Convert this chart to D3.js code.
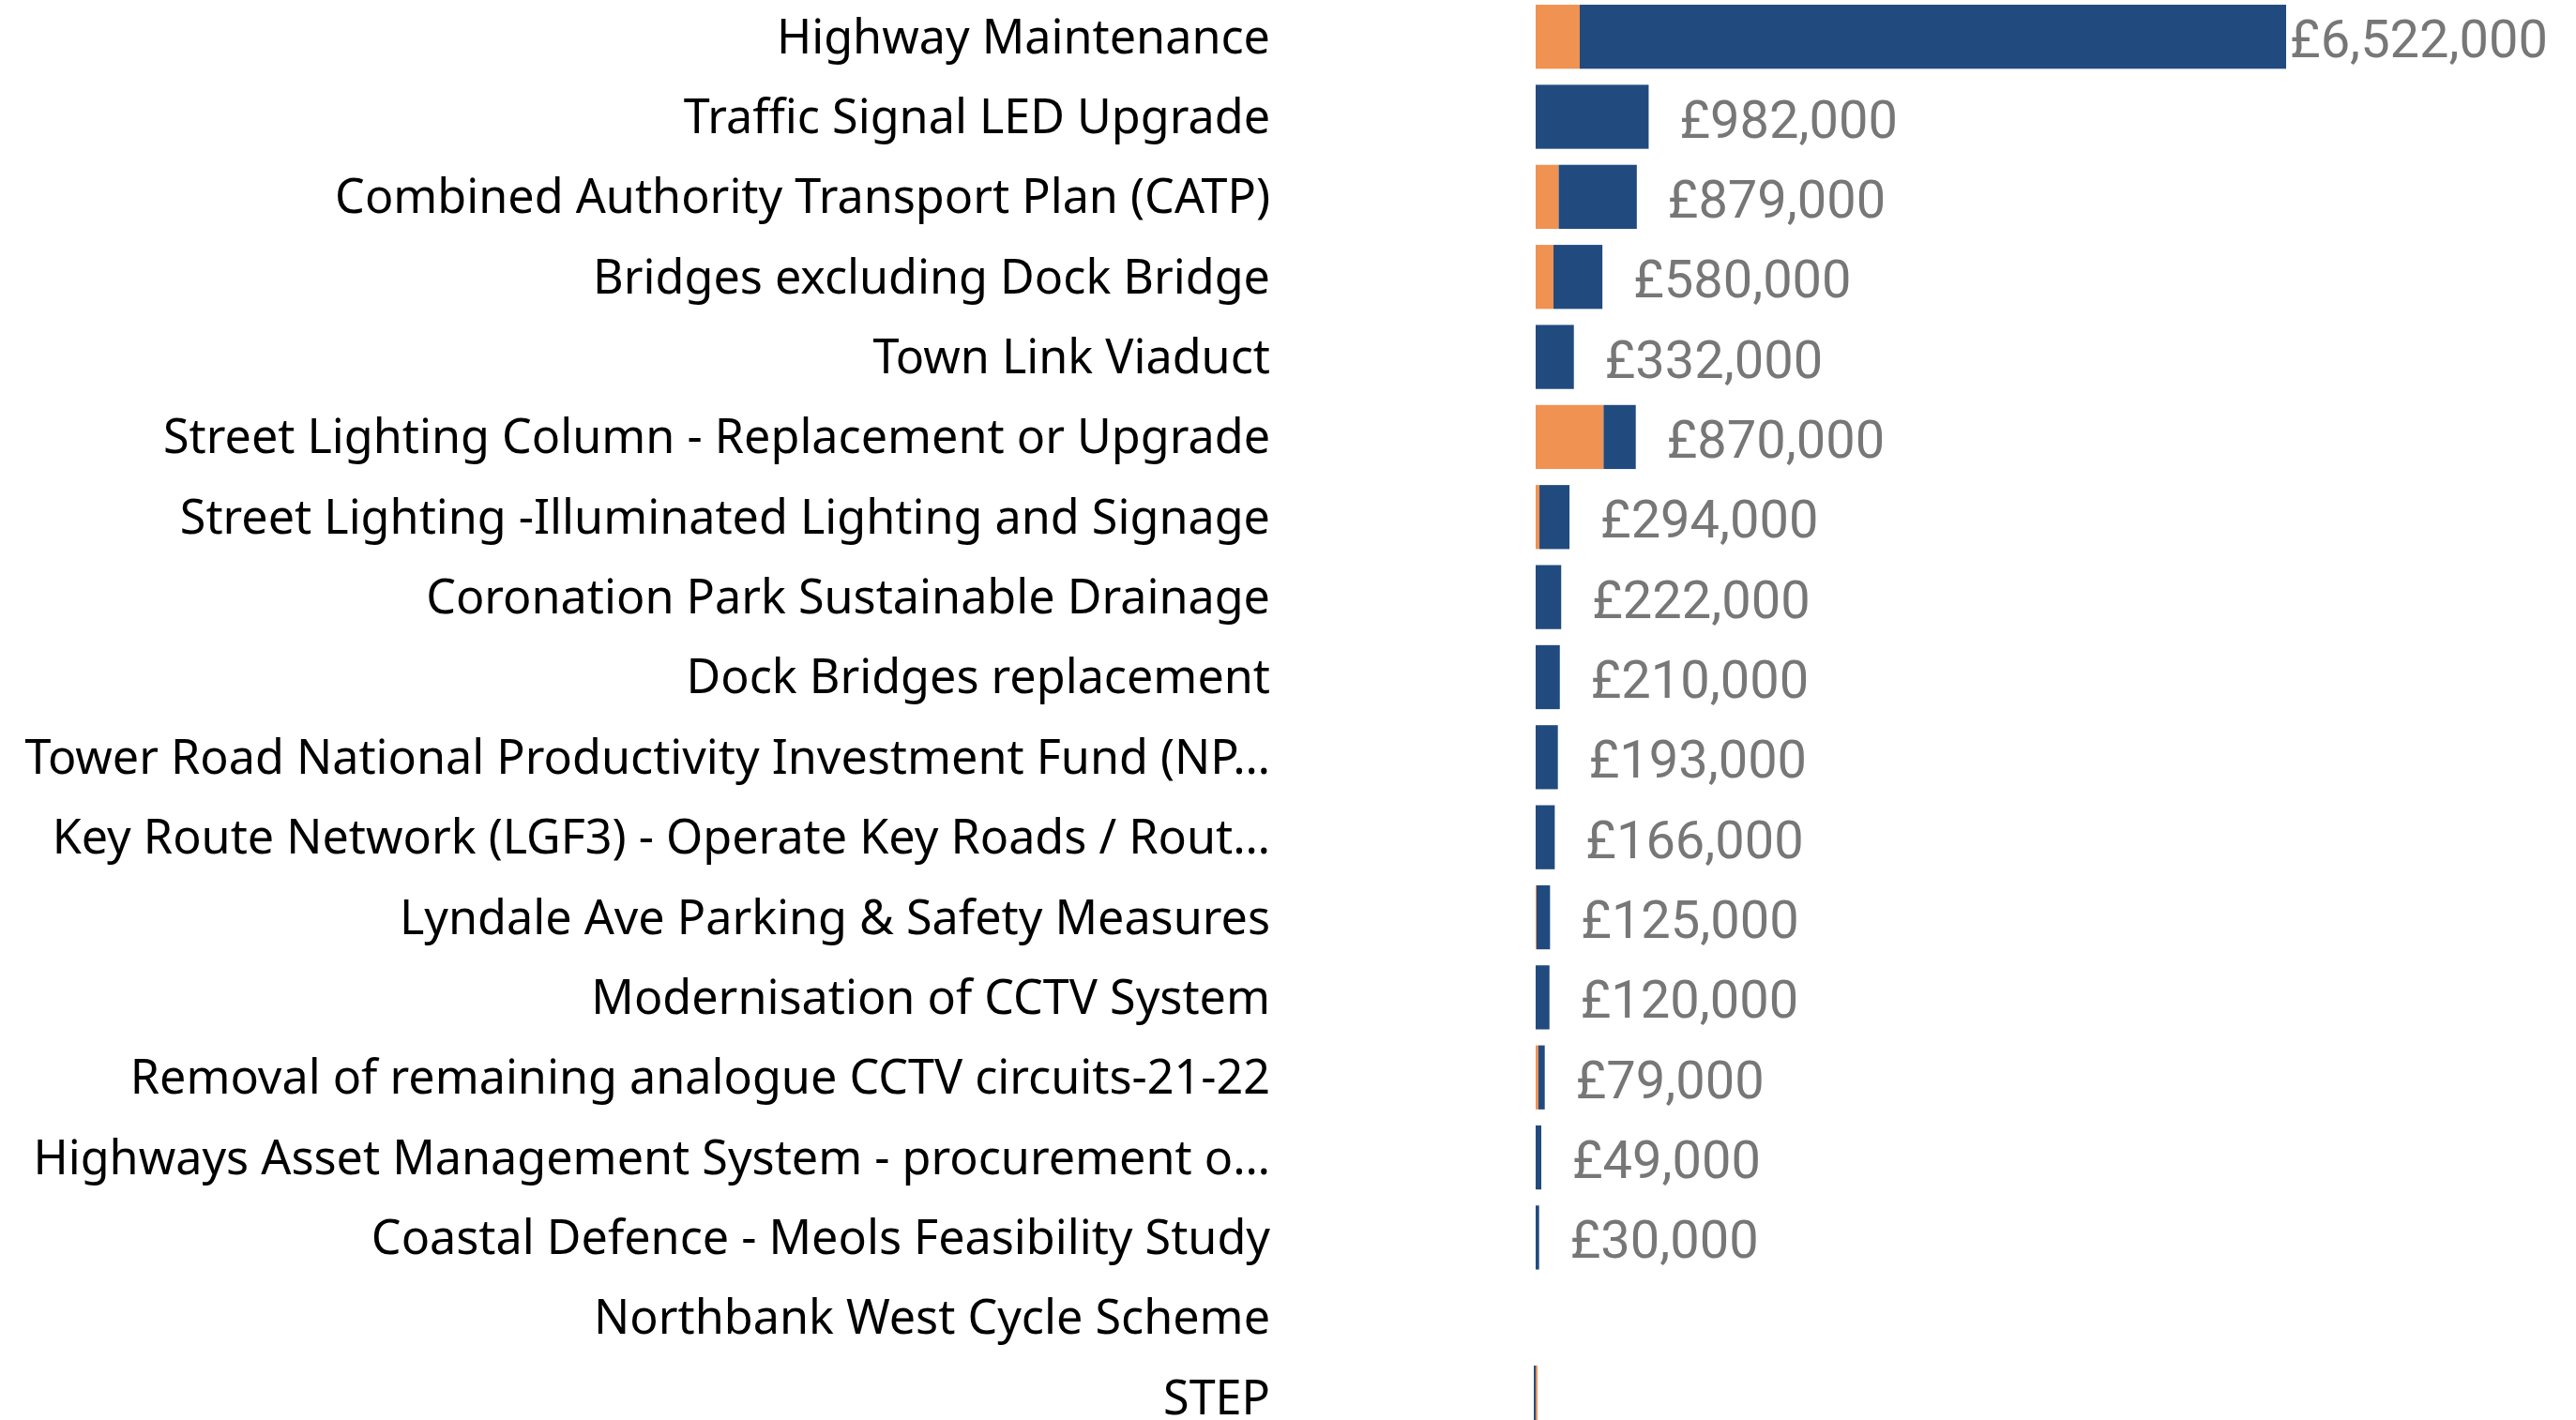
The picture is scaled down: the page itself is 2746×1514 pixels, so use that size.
<!DOCTYPE html>
<html>
<head>
<meta charset="utf-8">
<script src="https://cdn.jsdelivr.net/npm/d3@7"></script>
<style>
    body { margin: 0; background: #fff; }
    .cat-label { font-family: "Segoe UI", "Noto Sans", sans-serif; font-size: 50.3px; fill: #000; }
    .val-label { font-family: Roboto, "DejaVu Sans", sans-serif; font-size: 56px; fill: #777; }
</style>
</head>
<body>
<svg id="chart" width="2746" height="1514"></svg>
<script>
// project names (as shown, truncated ones included)
var categories = [
    "Highway Maintenance",
    "Traffic Signal LED Upgrade",
    "Combined Authority Transport Plan (CATP)",
    "Bridges excluding Dock Bridge",
    "Town Link Viaduct",
    "Street Lighting Column - Replacement or Upgrade",
    "Street Lighting -Illuminated Lighting and Signage",
    "Coronation Park Sustainable Drainage",
    "Dock Bridges replacement",
    "Tower Road National Productivity Investment Fund (NP…",
    "Key Route Network (LGF3) - Operate Key Roads / Rout…",
    "Lyndale Ave Parking & Safety Measures",
    "Modernisation of CCTV System",
    "Removal of remaining analogue CCTV circuits-21-22",
    "Highways Asset Management System - procurement o…",
    "Coastal Defence - Meols Feasibility Study",
    "Northbank West Cycle Scheme",
    "STEP"
];

// orange part of each bar
var orangeValues = [383000, 0, 200000, 155000, 0, 590000, 33000, 0, 0, 0, 0, 8000, 0, 24000, 0, 0, 0, 16000];

// blue part of each bar
var blueValues = [6139000, 982000, 679000, 425000, 332000, 280000, 261000, 222000, 210000, 193000, 166000, 117000, 120000, 55000, 49000, 30000, 0, -16000];

var colors = {orange: "#EF9252", blue: "#214B7E"};

var data = categories.map(function (c, i) {
    return {name: c, orange: orangeValues[i], blue: blueValues[i]};
});

var svg = d3.select("#chart"),
    labelRight = 1354,
    barLeft = 1637,
    barWidth = 800,
    labelLimit = 2716;

var y = d3.scaleBand()
    .domain(categories)
    .range([-3.5, -3.5 + 18 * 85.35])
    .paddingInner(0.2)
    .paddingOuter(0.1);

var maxTotal = d3.max(data, function (d) { return d.orange + d.blue; });

var x = d3.scaleLinear()
    .domain([0, maxTotal])
    .range([barLeft, barLeft + barWidth]);

var stack = d3.stack()
    .keys(["orange", "blue"])
    .offset(d3.stackOffsetDiverging);

var series = stack(data);

// stacked bars
svg.selectAll("g.series")
    .data(series)
    .enter()
    .append("g")
    .attr("class", "series")
    .attr("fill", function (s) { return colors[s.key]; })
    .selectAll("rect")
    .data(function (s) { return s; })
    .enter()
    .append("rect")
    .attr("x", function (d) { return x(Math.min(d[0], d[1])); })
    .attr("y", function (d) { return y(d.data.name); })
    .attr("width", function (d) { return Math.abs(x(d[1]) - x(d[0])); })
    .attr("height", y.bandwidth());

// category labels
svg.append("g")
    .selectAll("text")
    .data(categories)
    .enter()
    .append("text")
    .attr("class", "cat-label")
    .attr("x", labelRight)
    .attr("y", function (d) { return y(d) + y.bandwidth() / 2 - 2; })
    .attr("text-anchor", "end")
    .attr("dominant-baseline", "central")
    .text(function (d) { return d; });

// total labels
var fmt = d3.format(",");
svg.append("g")
    .selectAll("text")
    .data(data.filter(function (d) { return d.orange + d.blue !== 0; }))
    .enter()
    .append("text")
    .attr("class", "val-label")
    .attr("y", function (d) { return y(d.name) + y.bandwidth() / 2 + 3; })
    .attr("dominant-baseline", "central")
    .text(function (d) { return "£" + fmt(d.orange + d.blue); })
    .attr("x", function (d) {
        var w = this.getComputedTextLength();
        return Math.min(x(d.orange + d.blue) + 33, labelLimit - w);
    });
</script>
</body>
</html>
